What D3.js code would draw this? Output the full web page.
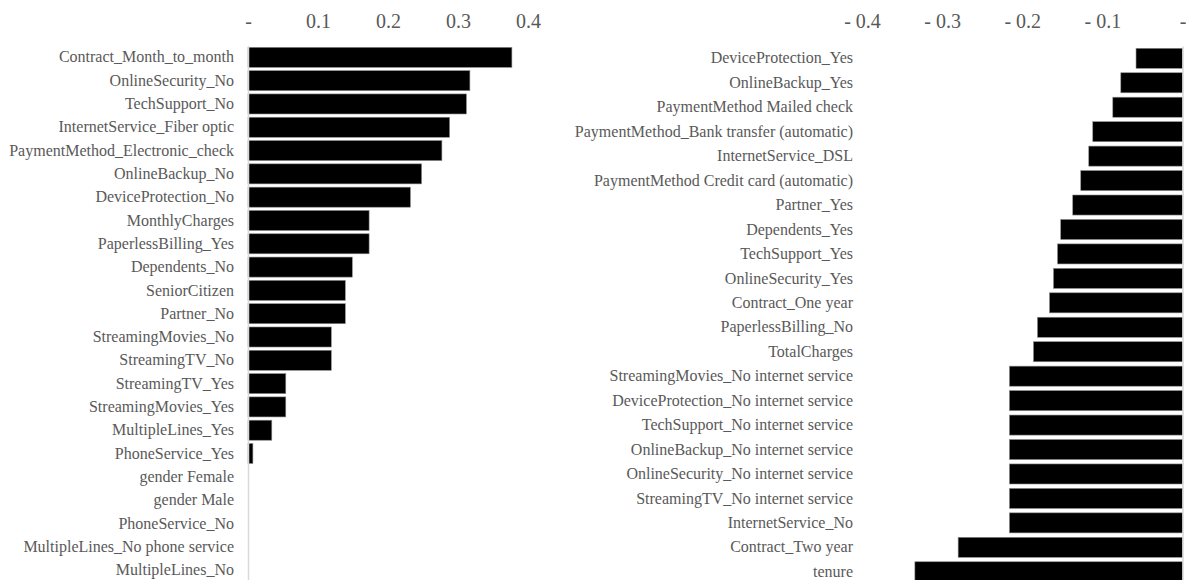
<!DOCTYPE html>
<html>
<head>
<meta charset="utf-8">
<script src="https://cdn.jsdelivr.net/npm/d3@7"></script>
<style>
  body { margin: 0; background: #fff; }
  text { font-family: "Liberation Serif", "Times New Roman", serif; fill: #595959; }
</style>
</head>
<body>
<div id="chart"></div>
<script>
// Positive correlations (left panel)
const leftCategories = [
  'Contract_Month_to_month', 'OnlineSecurity_No', 'TechSupport_No', 'InternetService_Fiber optic',
  'PaymentMethod_Electronic_check', 'OnlineBackup_No', 'DeviceProtection_No', 'MonthlyCharges',
  'PaperlessBilling_Yes', 'Dependents_No', 'SeniorCitizen', 'Partner_No', 'StreamingMovies_No',
  'StreamingTV_No', 'StreamingTV_Yes', 'StreamingMovies_Yes', 'MultipleLines_Yes', 'PhoneService_Yes',
  'gender Female', 'gender Male', 'PhoneService_No', 'MultipleLines_No phone service', 'MultipleLines_No'
];
const leftValues = [0.377, 0.317, 0.312, 0.288, 0.277, 0.248, 0.232, 0.173, 0.173, 0.149, 0.139, 0.139,
  0.119, 0.119, 0.054, 0.054, 0.034, 0.007, 0, 0, 0, 0, 0];
const leftTicks = [0, 0.1, 0.2, 0.3, 0.4];
const leftTickLabels = ['-', '0.1', '0.2', '0.3', '0.4'];

// Negative correlations (right panel)
const rightCategories = [
  'DeviceProtection_Yes', 'OnlineBackup_Yes', 'PaymentMethod Mailed check',
  'PaymentMethod_Bank transfer (automatic)', 'InternetService_DSL', 'PaymentMethod Credit card (automatic)',
  'Partner_Yes', 'Dependents_Yes', 'TechSupport_Yes', 'OnlineSecurity_Yes', 'Contract_One year',
  'PaperlessBilling_No', 'TotalCharges', 'StreamingMovies_No internet service',
  'DeviceProtection_No internet service', 'TechSupport_No internet service', 'OnlineBackup_No internet service',
  'OnlineSecurity_No internet service', 'StreamingTV_No internet service', 'InternetService_No',
  'Contract_Two year', 'tenure'
];
const rightValues = [-0.058, -0.077, -0.087, -0.112, -0.117, -0.127, -0.137, -0.152, -0.156, -0.161,
  -0.166, -0.181, -0.186, -0.216, -0.216, -0.216, -0.216, -0.216, -0.216, -0.216, -0.280, -0.334];
const rightTicks = [-0.4, -0.3, -0.2, -0.1, 0];
const rightTickLabels = ['- 0.4', '- 0.3', '- 0.2', '- 0.1', '-'];

const W = 1187, H = 580;
const svg = d3.select('#chart').append('svg').attr('width', W).attr('height', H);

function drawPanel(cfg) {
  const data = cfg.cats.map((c, i) => ({ label: c, value: cfg.vals[i] }));

  const x = d3.scaleLinear().domain(cfg.domain).range(cfg.xRange);
  const y = d3.scaleBand().domain(cfg.cats).range(cfg.yRange)
    .paddingInner(cfg.pad).paddingOuter(cfg.pad / 2);

  // top value axis
  const xAxis = svg.append('g')
    .attr('transform', 'translate(0,28)')
    .call(d3.axisTop(x).tickValues(cfg.ticks).tickSize(0).tickPadding(0)
      .tickFormat((d, i) => cfg.tickLabels[i]));
  xAxis.select('.domain').remove();
  xAxis.selectAll('text').style('font-size', '20px')
    .style('font-family', '"Liberation Serif", serif').attr('fill', '#595959');

  // category labels
  const yAxis = svg.append('g')
    .attr('transform', `translate(${cfg.labelX},0)`)
    .call(d3.axisLeft(y).tickSize(0).tickPadding(0));
  yAxis.select('.domain').remove();
  yAxis.selectAll('text').style('font-size', '16px')
    .style('font-family', '"Liberation Serif", serif').attr('fill', '#595959');

  // bars
  svg.append('g').selectAll('rect')
    .data(data)
    .enter()
    .append('rect')
    .attr('x', d => x(Math.min(0, d.value)))
    .attr('y', d => y(d.label))
    .attr('width', d => Math.abs(x(d.value) - x(0)))
    .attr('height', y.bandwidth())
    .attr('fill', '#000')
    .attr('stroke', d => d.value === 0 ? 'none' : '#8c8c8c')
    .attr('stroke-width', 0.6);

  // zero line
  const zero = svg.append('g')
    .attr('transform', `translate(${x(0)},0)`)
    .call(d3.axisLeft(y).tickSize(0).tickSizeOuter(0).tickFormat(''));
  zero.select('.domain').attr('stroke', '#d9d9d9').attr('stroke-width', 1.5);
}

drawPanel({
  cats: leftCategories, vals: leftValues, ticks: leftTicks, tickLabels: leftTickLabels,
  domain: [0, 0.4], xRange: [248, 528], yRange: [45.7, 581.7], pad: 0.14, labelX: 234
});

drawPanel({
  cats: rightCategories, vals: rightValues, ticks: rightTicks, tickLabels: rightTickLabels,
  domain: [-0.4, 0], xRange: [862, 1182.5], yRange: [46.1, 584], pad: 0.18, labelX: 853
});
</script>
</body>
</html>
